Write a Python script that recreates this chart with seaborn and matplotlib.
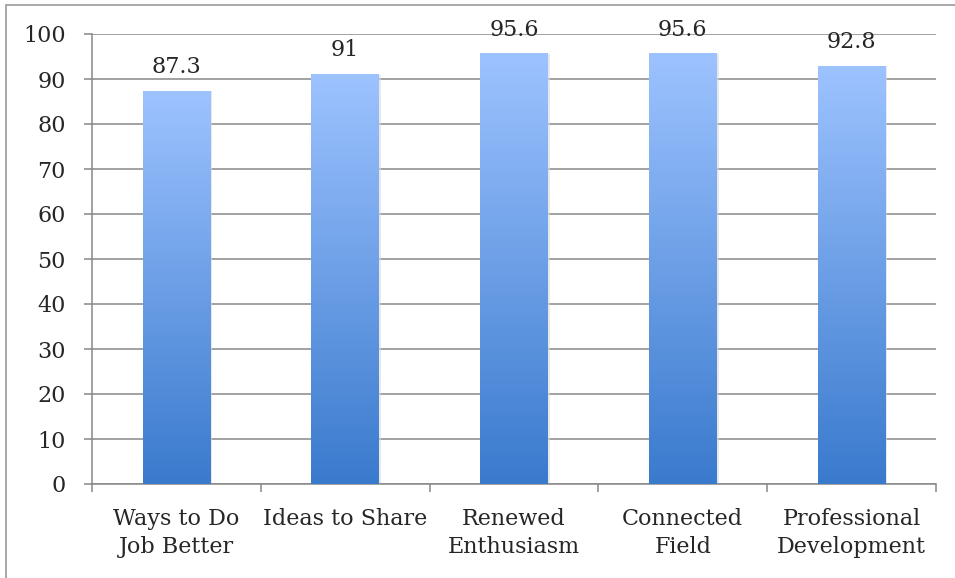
import numpy as np
import matplotlib
matplotlib.use("Agg")
import matplotlib.pyplot as plt
import seaborn as sns
from matplotlib.colors import LinearSegmentedColormap
from matplotlib.patches import Rectangle

# data
categories = ["Ways to Do\nJob Better", "Ideas to Share", "Renewed\nEnthusiasm",
              "Connected\nField", "Professional\nDevelopment"]
values = [87.3, 91, 95.6, 95.6, 92.8]
value_labels = ["87.3", "91", "95.6", "95.6", "92.8"]
yticks = list(range(0, 101, 10))

sns.set_style("white")
plt.rcParams['font.family'] = ['DejaVu Serif']

fs = 16
fig = plt.figure(figsize=(9.55, 5.78), dpi=100)
ax = fig.add_axes([92/955, 1-484/578, (936-92)/955, (484-34)/578])

sns.barplot(x=categories, y=values, width=0.4, color="#6a9ee8", ax=ax, zorder=3)

# vertical gradient per bar (light on top, dark at the bottom)
grad = LinearSegmentedColormap.from_list("bargrad", ["#3a7acd", "#9dc3ff"])
g = np.linspace(0, 1, 256).reshape(-1, 1)
for p in ax.patches:
    x0, w, h = p.get_x(), p.get_width(), p.get_height()
    p.set_facecolor("none")
    p.set_edgecolor("none")
    ax.imshow(g, cmap=grad, aspect="auto", origin="lower",
              extent=[x0, x0 + w, 0, h], zorder=3)
    # faint shadow on the sides
    ax.add_patch(Rectangle((x0 + w, 0), 0.012, h, color="#d9d9d9", alpha=0.6, zorder=2, lw=0))

for i, (v, t) in enumerate(zip(values, value_labels)):
    ax.text(i, v + 4, t, ha="center", va="baseline", fontsize=fs, zorder=4)

ax.set_xlim(-0.5, len(categories) - 0.5)
ax.set_ylim(0, 100)
ax.set_yticks(yticks)
ax.yaxis.grid(True, color="#888888", linewidth=1.1, zorder=0)
ax.set_axisbelow(True)

for s in ["top", "right"]:
    ax.spines[s].set_visible(False)
for s in ["left", "bottom"]:
    ax.spines[s].set_color("#888888")
    ax.spines[s].set_linewidth(1.1)

ax.tick_params(axis="y", which="major", length=6, width=1.1, color="#888888",
               left=True, pad=13, labelsize=fs)
ax.set_xticks(np.arange(-0.5, len(categories)), minor=True)
ax.tick_params(axis="x", which="minor", length=6, width=1.1, color="#888888",
               bottom=True, direction="out")
ax.tick_params(axis="x", which="major", length=0, pad=17, labelsize=fs)
for lab in ax.get_xticklabels():
    lab.set_multialignment("center")
    lab.set_linespacing(1.4)

ax.set_xlabel("")
ax.set_ylabel("")

# outer chart frame (top and left edges visible)
fig.patches.append(Rectangle((6/955, -0.1), 1.2, 1 - 5/578 + 0.1, transform=fig.transFigure,
                             fill=False, edgecolor="#9a9a9a", linewidth=1.2))

fig.savefig("out.png", dpi=100)
plt.close(fig)
